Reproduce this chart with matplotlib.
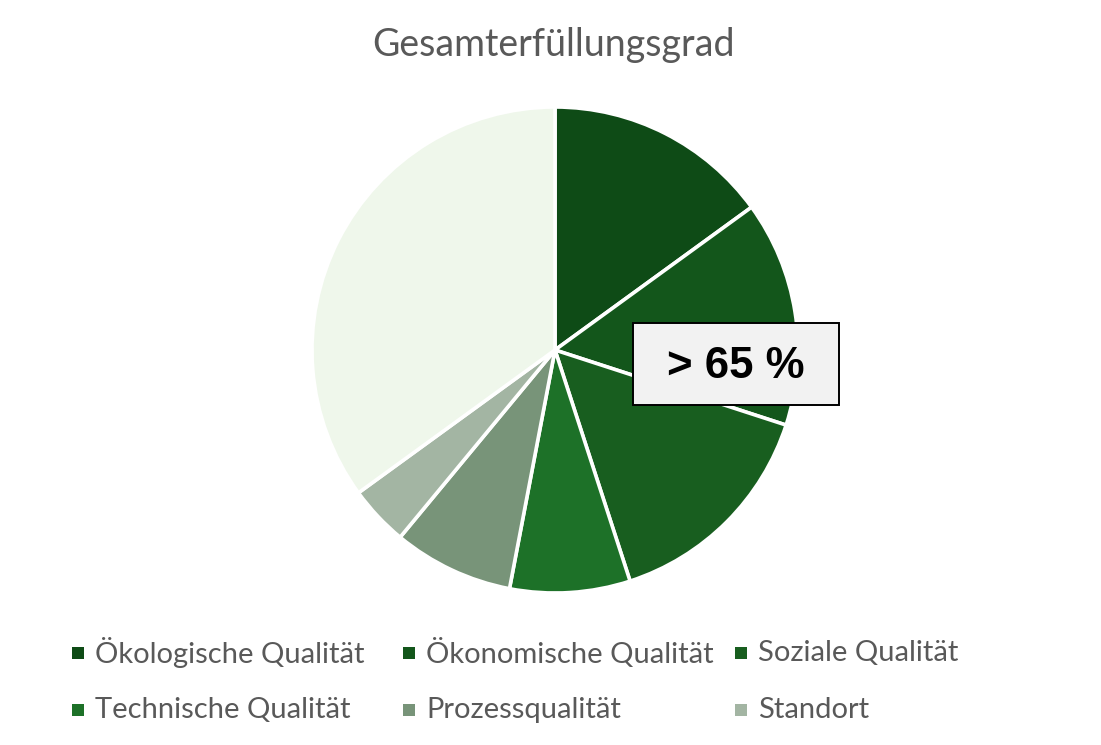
import matplotlib
matplotlib.use("Agg")
import matplotlib.pyplot as plt
from matplotlib.patches import Rectangle

# data
categories = ["Ökologische Qualität", "Ökonomische Qualität", "Soziale Qualität",
              "Technische Qualität", "Prozessqualität", "Standort"]
shares = [15, 15, 15, 8, 8, 4]
rest = 35
colors = ["#0E4B16", "#13561B", "#185E1F", "#1D7128", "#789479", "#A3B5A3"]
rest_color = "#EFF7EB"
title = "Gesamterfüllungsgrad"
badge = "> 65 %"

W, H = 1101, 745
fig = plt.figure(figsize=(W / 100, H / 100), dpi=100)
plt.rcParams["font.family"] = ["Lato", "DejaVu Sans"]

cx, cy, r = 555, 350, 243
ax = fig.add_axes([(cx - r) / W, (H - cy - r) / H, 2 * r / W, 2 * r / H])
ax.pie(shares + [rest], colors=colors + [rest_color], startangle=90,
       counterclock=False, radius=1,
       wedgeprops=dict(edgecolor="white", linewidth=2.6))
ax.set_xlim(-1, 1)
ax.set_ylim(-1, 1)
ax.set_aspect("equal")
ax.axis("off")

fig.text(554 / W, 1 - 45 / H, title, ha="center", va="center",
         fontsize=27, color="#595959")

# label box
bx0, by0, bx1, by1 = 633, 323, 839, 405
fig.patches.append(Rectangle((bx0 / W, 1 - by1 / H), (bx1 - bx0) / W,
                             (by1 - by0) / H, transform=fig.transFigure,
                             facecolor="#F2F2F2", edgecolor="black",
                             linewidth=1.4, zorder=5))
fig.text((bx0 + bx1) / 2 / W, 1 - 367 / H, badge, ha="center", va="center",
         fontsize=31.5, fontweight="bold", family=["Liberation Sans"],
         color="black", zorder=6)

# legend, laid out like the original (equal column widths)
col_x = [72, 403, 735]
row_y = [653, 710]
for i, (name, c) in enumerate(zip(categories, colors)):
    x = col_x[i % 3]
    y = row_y[i // 3]
    fig.patches.append(Rectangle((x / W, 1 - (y + 6) / H), 12 / W, 12 / H,
                                 transform=fig.transFigure, facecolor=c,
                                 edgecolor="none"))
    fig.text((x + 23) / W, 1 - y / H, name, ha="left", va="center",
             fontsize=21, color="#595959")

fig.savefig("out.png", dpi=100)
